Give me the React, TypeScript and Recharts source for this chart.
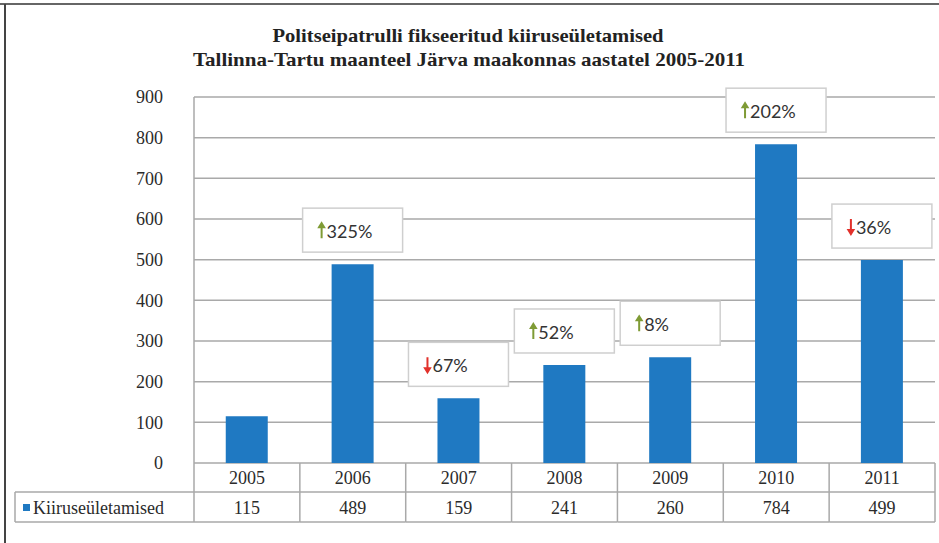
import React from 'react';
import { BarChart, Bar, XAxis, YAxis, CartesianGrid, LabelList } from 'recharts';

const YEARS = ['2005', '2006', '2007', '2008', '2009', '2010', '2011'];
const SPEEDING = [115, 489, 159, 241, 260, 784, 499];
// change vs previous year, in percent (null for the first year)
const CHANGE: (number | null)[] = [null, 325, -67, 52, 8, 202, -36];
const Y_TICKS = [0, 100, 200, 300, 400, 500, 600, 700, 800, 900];
const SERIES_NAME = 'Kiiruseületamised';
const TITLE_LINES = [
  'Politseipatrulli fikseeritud kiiruseületamised',
  'Tallinna-Tartu maanteel Järva maakonnas aastatel 2005-2011',
];

const data = YEARS.map((year, i) => ({ year, value: SPEEDING[i], change: CHANGE[i] }));

const BLUE = '#1f79c2';
const GRID = '#a9a9a9';
const TEXT = '#2b2b2b';
const SERIF = '"Liberation Serif", "Times New Roman", serif';
const SANS = 'Lato, "Open Sans", sans-serif';
const ROW = 29;

function TableTick(props: any) {
  const { x, y, payload } = props;
  const i = payload.index ?? props.index;
  const half = payload.offset || 53;
  const left = x - half;
  const right = x + half;
  return (
    <g>
      <line x1={right} y1={y} x2={right} y2={y + ROW * 2 + 1} stroke={GRID} strokeWidth={1.5} />
      <line x1={left} y1={y + ROW} x2={right} y2={y + ROW} stroke={GRID} strokeWidth={1.5} />
      <line x1={left} y1={y + ROW * 2 + 1} x2={right} y2={y + ROW * 2 + 1} stroke={GRID} strokeWidth={1.5} />
      <text x={x} y={y + 21} textAnchor="middle" fontFamily={SERIF} fontSize={18} fill={TEXT}>
        {payload.value}
      </text>
      <text x={x} y={y + ROW + 22} textAnchor="middle" fontFamily={SERIF} fontSize={18} fill={TEXT}>
        {SPEEDING[i]}
      </text>
      {i === 0 && (
        <g>
          <line x1={left} y1={y} x2={left} y2={y + ROW * 2 + 1} stroke={GRID} strokeWidth={1.5} />
          <line x1={15} y1={y + ROW} x2={left} y2={y + ROW} stroke={GRID} strokeWidth={1.5} />
          <line x1={15} y1={y + ROW * 2 + 1} x2={left} y2={y + ROW * 2 + 1} stroke={GRID} strokeWidth={1.5} />
          <line x1={15} y1={y + ROW} x2={15} y2={y + ROW * 2 + 1} stroke={GRID} strokeWidth={1.5} />
          <rect x={23} y={y + ROW + 12} width={7} height={7} fill={BLUE} />
          <text x={33} y={y + ROW + 22} fontFamily={SERIF} fontSize={18} fill={TEXT}>
            {SERIES_NAME}
          </text>
        </g>
      )}
    </g>
  );
}

function ChangeBox(props: any) {
  const vb = props.viewBox || props;
  const index = props.index;
  const change = CHANGE[index];
  if (change == null) return null;
  const bx = Number(vb.x ?? props.x);
  const by = Number(vb.y ?? props.y);
  const bw = Number(vb.width ?? props.width);
  const cx = bx + bw / 2;
  const boxW = 100;
  const boxH = 44;
  const bottom = by - 12;
  const top = bottom - boxH;
  const left = cx - boxW / 2;
  const up = change > 0;
  const ax = left + 19;
  const aTop = top + 15;
  const aBot = top + 30;
  const color = up ? '#7f9b35' : '#e2312b';
  return (
    <g>
      <rect x={left} y={top} width={boxW} height={boxH} fill="#fff" stroke="#cfcfcf" strokeWidth={1.5} />
      {up ? (
        <path d={`M${ax} ${aBot} L${ax} ${aTop + 3} M${ax - 2.5} ${aTop + 4} L${ax} ${aTop} L${ax + 2.5} ${aTop + 4} Z`} stroke={color} strokeWidth={2} fill={color} />
      ) : (
        <path d={`M${ax} ${aTop} L${ax} ${aBot - 3} M${ax - 2.5} ${aBot - 4} L${ax} ${aBot} L${ax + 2.5} ${aBot - 4} Z`} stroke={color} strokeWidth={2} fill={color} />
      )}
      <text x={ax + 5} y={top + 30} fontFamily={SANS} fontSize={18} fill="#333">
        {`${Math.abs(change)}%`}
      </text>
    </g>
  );
}

export default function App() {
  return (
    <div style={{ position: 'absolute', left: 0, top: 0, width: 939, height: 543, background: '#fff' }}>
      <BarChart
        width={939}
        height={543}
        data={data}
        margin={{ top: 97, right: 4, bottom: 20, left: 0 }}
        barCategoryGap="30%"
      >
        <CartesianGrid vertical={false} stroke={GRID} strokeWidth={1.5} />
        <XAxis
          dataKey="year"
          axisLine={false}
          tickLine={false}
          tickSize={0}
          tickMargin={0}
          height={60}
          interval={0}
          tick={<TableTick />}
        />
        <YAxis
          width={194}
          domain={[0, 900]}
          ticks={Y_TICKS}
          interval={0}
          axisLine={{ stroke: GRID, strokeWidth: 1.5 }}
          tickLine={false}
          tickSize={0}
          tickMargin={31}
          tick={{ fontFamily: SERIF, fontSize: 18, fill: TEXT }}
        />
        <Bar dataKey="value" fill={BLUE} isAnimationActive={false}>
          <LabelList dataKey="change" content={<ChangeBox />} />
        </Bar>
      </BarChart>
      <svg width={939} height={543} style={{ position: 'absolute', left: 0, top: 0, pointerEvents: 'none' }}>
        <line x1={0} y1={4} x2={939} y2={4} stroke="#666" strokeWidth={2} />
        <line x1={5} y1={4} x2={5} y2={543} stroke="#444" strokeWidth={2} />
        <text x={468} y={42} textAnchor="middle" fontFamily={SERIF} fontWeight="bold" fontSize={19} fill="#222" textLength={391} lengthAdjust="spacingAndGlyphs">
          {TITLE_LINES[0]}
        </text>
        <text x={469} y={66} textAnchor="middle" fontFamily={SERIF} fontWeight="bold" fontSize={19} fill="#222" textLength={552} lengthAdjust="spacingAndGlyphs">
          {TITLE_LINES[1]}
        </text>
      </svg>
    </div>
  );
}
